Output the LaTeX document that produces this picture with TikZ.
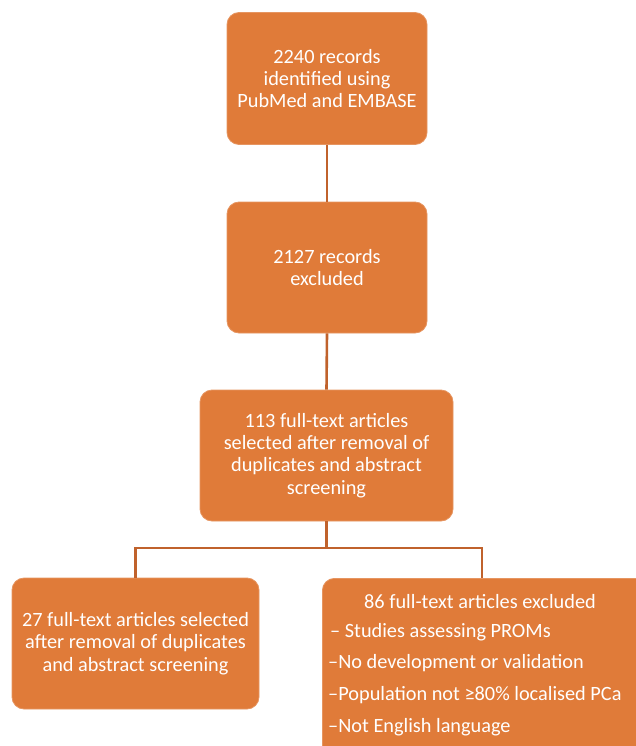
\documentclass[tikz,border=0pt]{standalone}
\usepackage{fontspec}
\setmainfont{Carlito}
\definecolor{boxorange}{RGB}{224,123,57}
\definecolor{lineorange}{RGB}{192,98,44}
\begin{document}
\begin{tikzpicture}[x=1pt,y=-1pt,
  box/.style={fill=boxorange, draw=boxorange!80!white, line width=0.8pt, rounded corners=12pt,
    text=white, align=center, font=\fontsize{20.3}{22.2}\selectfont, inner sep=0pt},
  conn/.style={draw=lineorange, line width=2.6pt},
  txt/.style={text=white, font=\fontsize{20.3}{22.2}\selectfont, inner sep=0pt}]
\useasboundingbox (0,0) rectangle (636,746);
\clip (0,0) rectangle (636,746);
\node[box, minimum width=200pt, minimum height=132pt] (b1) at (327,78.5)
  {2240 records\\identified using\\PubMed and EMBASE};
\node[box, minimum width=200pt, minimum height=131pt] (b2) at (327,267.5)
  {2127 records\\excluded};
\node[box, minimum width=253pt, minimum height=131pt] (b3) at (326.5,455.5)
  {113 full-text articles\\selected after removal of\\duplicates and abstract\\screening};
\node[box, minimum width=247pt, minimum height=131pt] (b4) at (135.5,643.5)
  {27 full-text articles selected\\after removal of duplicates\\and abstract screening};
\node[box, minimum width=330pt, minimum height=190pt, anchor=north west] (b5) at (322,578) {};
\node[txt] (t1) at (480,602) {86 full-text articles excluded};
\node[txt, anchor=west] (t2) at (330,632) {– Studies assessing PROMs};
\node[txt, anchor=west] (t3) at (328,663) {–No development or validation};
\node[txt, anchor=west] (t4) at (328,695) {–Population not ≥80\% localised PCa};
\node[txt, anchor=west] (t5) at (328,727) {–Not English language};
\coordinate (j) at (326.5,548);
\coordinate (jl) at (135.5,548);
\coordinate (jr) at (482,548);
\coordinate (b5top) at (482,578);
\draw[conn] (b1.south) -- (b2.north);
\draw[conn] (b2.south) -- (b3.north);
\draw[conn] (b3.south) -- (j);
\draw[conn, line cap=rect] (jl) -- (jr);
\draw[conn] (jl) -- (b4.north);
\draw[conn] (jr) -- (b5top);
\end{tikzpicture}
\end{document}
